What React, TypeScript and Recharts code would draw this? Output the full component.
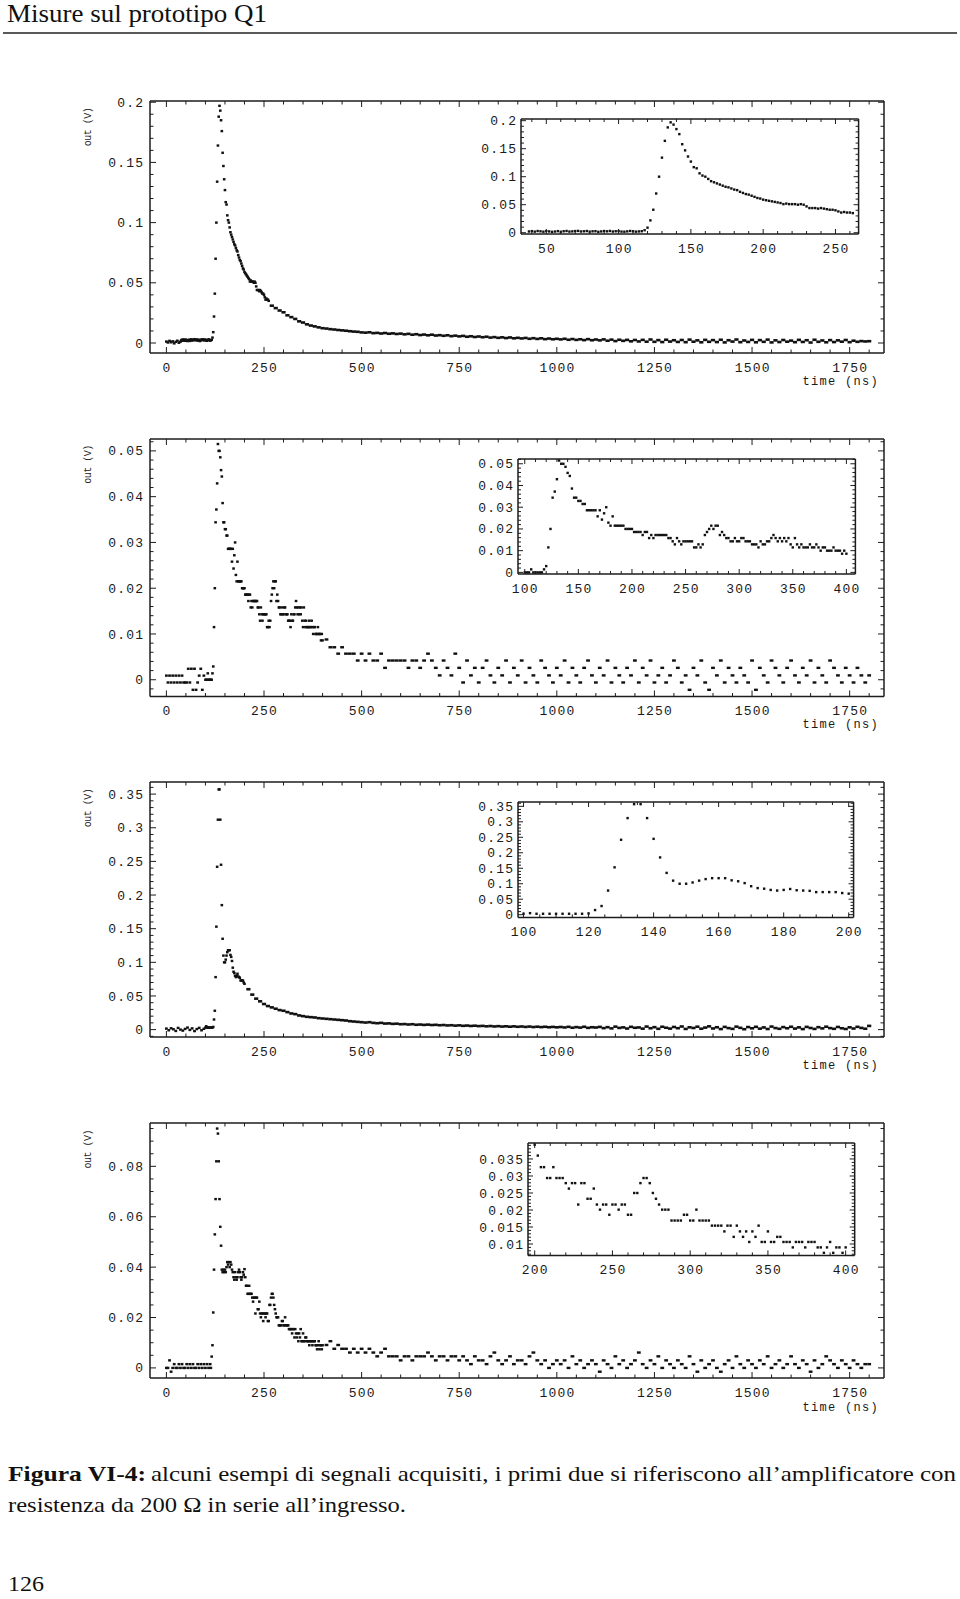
import React from "react";
import { ScatterChart, Scatter, XAxis, YAxis } from "recharts";

// Readings of the four acquired signals, in mV, on the digitiser grid (start ns, step ns).

// signal 1
const p1PreStart = 0, p1PreStep = 4;
const p1Pre = [1.2, 0.4, 1.8, 0.6, 1.4, -0.3, 1.0, 1.9, 0.2, 1.1];
const p1FineStart = 38, p1FineStep = 2;
const p1Fine = [
  2.2, 2.8, 1.9, 3.0, 2.5, 1.8, 2.9, 2.3, 1.6, 2.1,
  2.8, 1.7, 2.6, 3.1, 2.0, 2.4, 2.9, 3.2, 2.2, 2.6,
  3.0, 1.9, 2.5, 2.7, 1.6, 2.3, 3.0, 2.5, 3.1, 2.1,
  2.6, 2.9, 2.0, 1.8, 2.4, 3.1, 2.6, 1.9, 2.3, 2.7,
  4.5, 9, 22, 41, 70, 100, 134, 164, 188, 197,
  193, 185, 176, 158, 147, 136, 127, 117, 115, 106,
  102, 100, 96, 92, 90, 88, 86, 84, 82, 81,
  79, 77, 76, 73, 71, 69, 68, 66, 64, 62,
  61, 59, 58, 57, 56, 55, 54, 53, 51, 52,
  51, 51, 51, 50, 51, 50, 47, 44, 44, 44,
  43, 44, 43, 42, 41, 41, 40, 38, 36, 37,
  36, 36, 35,
];
const p1TailStart = 270, p1TailStep = 10;
const p1Tail = [
  31, 29, 27, 25.5, 23, 21.5, 20, 18, 17, 15.5,
  14.5, 13.8, 13, 12.3, 12, 11.5, 11.2, 10.8, 10.5, 10.2,
  9.8, 9.5, 9.3, 8.8,
  8.6, 8.9, 8.2, 8.4, 7.9, 8.3, 7.7, 8.0, 7.5, 7.8,
  7.2, 7.6, 6.9, 7.3, 6.6, 7.0, 6.4, 6.9, 6.2, 6.5,
  6.0, 6.4, 5.7, 6.1, 5.5, 5.9, 5.2, 5.6, 5.0, 5.4,
  4.8, 5.2, 4.5, 4.9, 4.3, 4.7, 4.1, 4.6, 3.9, 4.3,
  3.8, 4.2, 3.5, 4.0, 3.4, 3.9, 3.2, 3.7, 3.1, 3.5,
  3.0, 3.5, 2.7, 3.3, 2.6, 3.1, 2.4, 3.2, 2.3, 2.9,
  2.2, 3.0, 1.9, 2.8, 1.6, 2.7, 1.8, 2.6, 1.4, 2.5,
  1.3, 2.6, 1.1, 2.9, 1.0, 2.4, 0.8, 2.7, 1.2, 2.3,
  0.9, 2.5, 0.7, 2.8, 1.1, 2.2, 0.6, 2.6, 1.0, 2.4,
  0.8, 2.7, 0.5, 2.3, 1.2, 2.9, 0.7, 2.1, 0.9, 2.6,
  0.6, 2.4, 1.0, 2.8, 0.5, 2.2, 0.8, 2.5, 1.1, 2.0,
  0.7, 2.6, 0.9, 2.3, 0.4, 2.7, 1.0, 2.1, 0.6, 2.4,
  0.8, 2.2, 1.1, 2.5, 0.7, 1.9, 1.0, 1.6, 1.3, 1.5,
];

// signal 2
const p2PreStart = 0, p2PreStep = 4;
const p2Pre = [
  0.9, -0.6, 0.9, -0.6, 0.9, -0.6, 0.9, -0.6, 0.9, -0.6,
  0.9, -0.6, -0.6, -0.6, 2.4, -0.6, 2.4, -2.2, 2.4, -2.2,
  -0.6, 0.9, 2.4, -2.2, 0.9,
];
const p2FineStart = 100, p2FineStep = 2;
const p2Fine = [
  0, 0, 0, 1.4, 0, 0, 0, 0, 0, 1.4,
  2.9, 11.5, 20, 34.4, 37.2, 42.9, 51.5, 50, 50, 48.6,
  45.8, 44.4, 38.6, 34.4, 34.4, 32.9, 32.9, 31.5, 31.5, 28.6,
  28.6, 28.6, 28.6, 28.6, 25.8, 28.6, 24.3, 27.2, 30, 22.9,
  21.5, 25.8, 21.5, 21.5, 21.5, 21.5, 21.5, 20, 20, 20,
  20, 18.6, 18.6, 18.6, 18.6, 17.2, 18.6, 18.6, 15.8, 17.2,
  15.8, 17.2, 17.2, 17.2, 17.2, 17.2, 17.2, 15.8, 15.8, 14.3,
  12.9, 15.8, 14.3, 12.9, 14.3, 14.3, 14.3, 14.3, 14.3, 11.5,
  11.5, 12.9, 11.5, 12.9, 17.2, 18.6, 20, 21.5, 20, 21.5,
  21.5, 17.2, 18.6, 17.2, 15.8, 15.8, 14.3, 14.3, 15.8, 14.3,
  14.3, 15.8, 15.8, 14.3, 14.3, 14.3, 12.9, 12.9, 12.9, 11.5,
  14.3, 12.9, 12.9, 14.3, 14.3, 15.8, 17.2, 15.8, 14.3, 15.8,
  14.3, 15.8, 14.3, 15.8, 12.9, 11.5, 15.8, 12.9, 11.5, 12.9,
  11.5, 11.5, 11.5, 12.9, 11.5, 11.5, 12.9, 11.5, 10, 11.5,
  11.5, 10, 10, 10, 11.5, 10, 10, 10, 8.6, 10,
  8.6,
];
const p2TailStart = 410, p2TailStep = 10;
const p2Tail = [
  8.8, 7.1, 7.1, 5.7, 7.1, 5.7, 5.7, 5.7, 4.2, 5.7,
  4.2, 5.7, 4.2, 4.2, 5.7, 2.6, 4.2, 4.2, 4.2, 4.2,
  4.2, 2.6, 4.2, 4.2, 2.6, 4.2, 5.7, 4.2, 2.6, 0.95,
  4.2, 2.6, 0.95, 5.7, 2.6, -0.6, 4.2, 0.95, 2.6, -0.6,
  2.6, 4.2, 0.95, -0.6, 2.6, 0.95, 4.2, -0.6, 2.6, 0.95,
  4.2, -0.6, 2.6, 0.95, -0.6, 4.2, 2.6, 0.95, -0.6, 2.6,
  0.95, 4.2, -0.6, 2.6, 0.95, -0.6, 2.6, 4.2, 0.95, -0.6,
  2.6, 0.95, 4.2, -0.6, 2.6, 0.95, -0.6, 2.6, 0.95, 4.2,
  -0.6, 2.6, 0.95, 4.2, -0.6, 0.95, 2.6, -0.6, 0.95, 4.2,
  2.6, -0.6, 0.95, -2.2, 2.6, 0.95, 4.2, -0.6, -2.2, 2.6,
  0.95, 4.2, -0.6, 2.6, 0.95, -0.6, 2.6, 0.95, -0.6, 4.2,
  -2.2, 2.6, 0.95, -0.6, 4.2, 2.6, 0.95, -0.6, 2.6, 4.2,
  0.95, -0.6, 2.6, 0.95, 4.2, -0.6, 2.6, 0.95, -0.6, 4.2,
  2.6, 0.95, -0.6, 2.6, 0.95, -0.6, 2.6, 0.95, -0.6, 0.95,
];

// signal 3
const p3PreStart = 0, p3PreStep = 6;
const p3Pre = [1.5, -1, 2, 0.5, -2, 2.5, 0, -1.5, 1, 3, -0.5, 1.8, -2.2, 0.8, 2.6, -1, 1.2];
const p3FineStart = 100, p3FineStep = 2;
const p3Fine = [
  3, 5, 3, 3, 3, 3, 3, 3, 3, 3,
  4, 15, 28, 78, 153, 242, 312, 357, 357, 312,
  245, 185, 135, 110, 100, 100, 104, 110, 115, 118,
  118, 118, 111, 108, 102, 92, 86, 84, 80, 78,
  80, 83, 79, 78, 77, 73, 73, 73, 73, 70,
  68,
];
const p3TailStart = 210, p3TailStep = 10;
const p3Tail = [
  60, 52, 46, 42, 38, 35, 33, 31, 29, 28,
  26, 24, 23, 21, 20, 19, 18.5, 18, 17, 16.5,
  16, 15.5, 15, 14.5, 14, 13.5, 12.5, 12, 11.5, 11,
  10.5, 11, 10, 9.5, 10, 9, 9.2, 8.5, 8.8, 8,
  8.2, 7.6, 8, 7.2, 7.5, 7, 7.4, 6.8, 7.1, 6.5,
  6.8, 6.2, 6.5, 5.9, 6.3, 5.6, 6.0, 5.4, 5.8, 5.2,
  5.5, 4.9, 5.3, 4.7, 5.1, 4.5, 4.9, 4.3, 4.8, 4.2,
  4.6, 4.0, 4.5, 3.8, 4.3, 3.7, 4.2, 3.5, 4.0, 3.4,
  3.9, 3.2, 4.1, 2.8, 3.7, 3.0, 4.2, 2.6, 3.5, 3.1,
  4.0, 2.2, 3.6, 1.8, 4.4, 2.5, 3.3, 1.6, 4.1, 2.7,
  3.2, 1.4, 4.5, 2.0, 3.6, 1.2, 4.2, 2.8, 1.5, 3.9,
  2.1, 4.6, 1.0, 3.4, 2.4, 4.3, 1.3, 3.0, 4.8, 1.7,
  3.5, 0.8, 4.0, 2.2, 1.1, 4.4, 2.6, 0.6, 3.8, 1.9,
  4.1, 1.4, 3.2, 0.9, 4.5, 2.3, 1.2, 3.7, 2.0, 4.2,
  1.5, 3.3, 0.8, 4.0, 2.4, 1.0, 3.6, 1.8, 4.3, 2.2,
  1.2, 3.9, 2.0, 0.9, 3.4, 1.6, 4.1, 2.5, 1.3, 5.5,
];

// signal 4
const p4PreStart = 0, p4PreStep = 4;
const p4Pre = [
  0, 0, 3.0, -1.5, 0, 1.5, 0, 0, 1.5, 0,
  1.5, 0, 0, 1.5, 0, 1.5, 0, 1.5, 0, 0,
  1.5, 0, 1.5, 0, 1.5, 0, 1.5, 0, 1.5,
];
const p4RiseStart = 114, p4RiseStep = 2;
const p4Rise = [
  0, 4.5, 9, 22, 39, 53, 67, 82, 95, 93,
  82, 67, 56, 48.5, 39, 38, 39, 38, 39, 38,
  40, 42, 41, 42, 40, 42, 41, 39, 38, 36,
  35, 38, 36, 35, 36, 38, 39, 38, 36, 35,
  36, 38, 37,
];
const p4FineStart = 200, p4FineStep = 2;
const p4Fine = [
  39.2, 36, 32.6, 32.6, 29.4, 29.4, 32.6, 29.4, 29.4, 29.4,
  27.9, 26.3, 27.9, 27.9, 21.6, 27.9, 27.9, 23.3, 23.3, 26.3,
  21.6, 20.1, 21.6, 21.6, 18.6, 21.6, 21.6, 20.1, 21.6, 21.6,
  18.6, 18.6, 25, 25, 27.9, 29.4, 29.4, 27.9, 25, 23.3,
  21.6, 20.1, 20.1, 20.1, 16.9, 16.9, 16.9, 16.9, 18.6, 18.6,
  16.9, 16.9, 20.1, 16.9, 16.9, 16.9, 16.9, 15.4, 15.4, 15.4,
  15.4, 13.7, 15.4, 15.4, 12.1, 15.4, 13.7, 12.1, 13.7, 10.6,
  13.7, 12.1, 15.4, 10.6, 10.6, 13.7, 10.6, 10.6, 12.1, 12.1,
  10.6, 10.6, 10.6, 9.0, 10.6, 10.6, 10.6, 9.0, 10.6, 10.6,
  10.6, 9.0, 9.0, 7.4, 9.0, 10.6, 7.4, 9.0, 9.0, 7.4,
  9.0,
];
const p4TailStart = 410, p4TailStep = 10;
const p4Tail = [
  9.1, 10.6, 7.6, 9.1, 7.6, 7.6, 6.1, 7.6, 6.1, 7.6,
  6.1, 7.6, 6.1, 4.6, 6.1, 7.6, 4.6, 4.6, 4.6, 3.0,
  4.6, 4.6, 3.0, 4.6, 4.6, 4.6, 6.1, 4.6, 3.0, 4.6,
  4.6, 3.0, 4.6, 4.6, 3.0, 4.6, 3.0, 1.5, 4.6, 3.0,
  3.0, 1.5, 4.6, 6.1, 3.0, 1.5, 3.0, 4.6, 1.5, 3.0,
  3.0, 1.5, 4.6, 6.1, 3.0, 1.5, 3.0, 0, 1.5, 3.0,
  1.5, 3.0, 0, 4.6, 1.5, 3.0, 0, 1.5, 3.0, 1.5,
  -1.5, 3.0, 1.5, 0, 4.6, 1.5, 3.0, 0, 1.5, 3.0,
  6.1, 1.5, 0, 3.0, 1.5, 4.6, 0, 3.0, 1.5, 0,
  3.0, 1.5, 0, 4.6, 1.5, -1.5, 3.0, 0, 1.5, 3.0,
  0, -1.5, 1.5, 3.0, 0, 4.6, 1.5, 0, 3.0, 1.5,
  0, 3.0, 1.5, 4.6, 0, 1.5, 3.0, 0, 1.5, 4.6,
  1.5, 0, 3.0, 1.5, -1.5, 3.0, 0, 1.5, 4.6, 3.0,
  1.5, 0, 3.0, 1.5, 0, 3.0, 1.5, 0, 1.5, 1.5,
];

// tick labels
const timeTicks = [0, 250, 500, 750, 1000, 1250, 1500, 1750];
const p1VTicks = [0, 0.05, 0.1, 0.15, 0.2];
const p2VTicks = [0, 0.01, 0.02, 0.03, 0.04, 0.05];
const p3VTicks = [0, 0.05, 0.1, 0.15, 0.2, 0.25, 0.3, 0.35];
const p4VTicks = [0, 0.02, 0.04, 0.06, 0.08];
const in1TTicks = [50, 100, 150, 200, 250];
const in2TTicks = [100, 150, 200, 250, 300, 350, 400];
const in3TTicks = [100, 120, 140, 160, 180, 200];
const in4TTicks = [200, 250, 300, 350, 400];
const in4VTicks = [0.01, 0.015, 0.02, 0.025, 0.03, 0.035];

const toPoints = (start: number, step: number, mv: number[]) =>
  mv.map((m, i) => ({ t: start + i * step, v: m / 1000 }));

const MONO = "'Liberation Mono', 'DejaVu Sans Mono', monospace";
const SERIF = "'Liberation Serif', 'Times New Roman', serif";
const INK = "#1c1c1c";
const FRAME = { stroke: INK, strokeWidth: 1.5 };

function minorTicks(domain: number[], step: number, majors: number[]) {
  const out: number[] = [];
  const k0 = Math.ceil(domain[0] / step - 1e-9);
  const k1 = Math.floor(domain[1] / step + 1e-9);
  for (let k = k0; k <= k1; k++) {
    const v = Math.round(k * step * 1e6) / 1e6;
    if (!majors.some((m) => Math.abs(m - v) < 1e-9)) out.push(v);
  }
  return out;
}

type Side = "bottom" | "top" | "left" | "right";

function makeTick(side: Side, majors: number[], labels: boolean, big: number, small: number, gap: number) {
  return (props: any) => {
    const { x, y, payload } = props;
    const v = payload.value as number;
    const major = majors.some((m) => Math.abs(m - v) < 1e-9);
    const len = major ? big : small;
    let x2 = x, y2 = y;
    if (side === "bottom") y2 = y - len;
    if (side === "top") y2 = y + len;
    if (side === "left") x2 = x + len;
    if (side === "right") x2 = x - len;
    const txt = { fontFamily: MONO, fontSize: 13, letterSpacing: 1.2, fill: "#1a1a1a" };
    return (
      <g>
        <line x1={x} y1={y} x2={x2} y2={y2} stroke={INK} strokeWidth={1} />
        {labels && major && side === "bottom" && (
          <text x={x + 0.6} y={y + 14} dy="0.35em" textAnchor="middle" style={txt}>{String(v)}</text>
        )}
        {labels && major && side === "left" && (
          <text x={x - gap + 1.2} y={y} dy="0.35em" textAnchor="end" style={txt}>{String(v)}</text>
        )}
      </g>
    );
  };
}

type Seg = { data: { t: number; v: number }[]; w: number; h: number };

type PlotProps = {
  left: number; top: number; width: number; height: number;
  xDomain: number[]; yDomain: number[];
  xMajor: number[]; xMinor: number; yMajor: number[]; yMinor: number;
  segs: Seg[]; pad: { l: number; r: number; t: number; b: number };
  big: number; small: number; gap: number; bg?: string;
};

function Plot(p: PlotProps) {
  const W = p.width + p.pad.l + p.pad.r;
  const H = p.height + p.pad.t + p.pad.b;
  const xTicks = [...p.xMajor, ...minorTicks(p.xDomain, p.xMinor, p.xMajor)].sort((a, b) => a - b);
  const yTicks = [...p.yMajor, ...minorTicks(p.yDomain, p.yMinor, p.yMajor)].sort((a, b) => a - b);
  return (
    <div style={{ position: "absolute", left: p.left - p.pad.l, top: p.top - p.pad.t, width: W, height: H, background: p.bg }}>
      <ScatterChart width={W} height={H} margin={{ top: 0, right: 0, bottom: 0, left: 0 }}>
        <XAxis xAxisId="b" type="number" dataKey="t" orientation="bottom" domain={p.xDomain} allowDataOverflow
          ticks={xTicks} interval={0} height={p.pad.b} tickSize={0} tickMargin={0} tickLine={false} axisLine={FRAME}
          tick={makeTick("bottom", p.xMajor, true, p.big, p.small, p.gap)} />
        <XAxis xAxisId="t" type="number" dataKey="t" orientation="top" domain={p.xDomain} allowDataOverflow
          ticks={xTicks} interval={0} height={p.pad.t} tickSize={0} tickMargin={0} tickLine={false} axisLine={FRAME}
          tick={makeTick("top", p.xMajor, false, p.big, p.small, p.gap)} />
        <YAxis yAxisId="l" type="number" dataKey="v" orientation="left" domain={p.yDomain} allowDataOverflow
          ticks={yTicks} interval={0} width={p.pad.l} tickSize={0} tickMargin={0} tickLine={false} axisLine={FRAME}
          tick={makeTick("left", p.yMajor, true, p.big, p.small, p.gap)} />
        <YAxis yAxisId="r" type="number" dataKey="v" orientation="right" domain={p.yDomain} allowDataOverflow
          ticks={yTicks} interval={0} width={p.pad.r} tickSize={0} tickMargin={0} tickLine={false} axisLine={FRAME}
          tick={makeTick("right", p.yMajor, false, p.big, p.small, p.gap)} />
        {p.segs.map((s, i) => (
          <Scatter key={i} xAxisId="b" yAxisId="l" data={s.data} isAnimationActive={false}
            shape={(d: any) => <rect x={d.cx - s.w / 2} y={d.cy - s.h / 2} width={s.w} height={s.h} fill="#111" />} />
        ))}
      </ScatterChart>
    </div>
  );
}

const MAIN_PAD = { l: 70, r: 8, t: 8, b: 30 };
const INSET_PAD = { l: 62, r: 22, t: 6, b: 28 };
const T_DOMAIN = [-42, 1838];

const panels = [
  {
    top: 101, height: 252, yDomain: [-0.0083, 0.201], yMajor: p1VTicks, yMinor: 0.01,
    segs: [
      { data: toPoints(p1PreStart, p1PreStep, p1Pre), w: 2.8, h: 2.4 },
      { data: toPoints(p1FineStart, p1FineStep, p1Fine), w: 2.6, h: 2.4 },
      { data: toPoints(p1TailStart, p1TailStep, p1Tail), w: 4.2, h: 2.6 },
    ],
    inset: {
      left: 520.7, top: 119, width: 337.6, height: 115, xDomain: [32.5, 266], yDomain: [-0.0023, 0.203],
      xMajor: in1TTicks, xMinor: 10, yMajor: p1VTicks, yMinor: 0.01,
      data: toPoints(p1FineStart, p1FineStep, p1Fine),
    },
  },
  {
    top: 438.5, height: 257.5, yDomain: [-0.00366, 0.0526], yMajor: p2VTicks, yMinor: 0.002,
    segs: [
      { data: toPoints(p2PreStart, p2PreStep, p2Pre), w: 2.8, h: 2.4 },
      { data: toPoints(p2FineStart, p2FineStep, p2Fine), w: 2.6, h: 2.4 },
      { data: toPoints(p2TailStart, p2TailStep, p2Tail), w: 3.8, h: 2.4 },
    ],
    inset: {
      left: 518.3, top: 459.3, width: 337.4, height: 115, xDomain: [93.7, 408.4], yDomain: [-0.00074, 0.0522],
      xMajor: in2TTicks, xMinor: 10, yMajor: p2VTicks, yMinor: 0.002,
      data: toPoints(p2FineStart, p2FineStep, p2Fine),
    },
  },
  {
    top: 782, height: 255, yDomain: [-0.011, 0.368], yMajor: p3VTicks, yMinor: 0.01,
    segs: [
      { data: toPoints(p3PreStart, p3PreStep, p3Pre), w: 2.8, h: 2.4 },
      { data: toPoints(p3FineStart, p3FineStep, p3Fine), w: 2.6, h: 2.4 },
      { data: toPoints(p3TailStart, p3TailStep, p3Tail), w: 4.2, h: 2.6 },
    ],
    inset: {
      left: 517.7, top: 802.3, width: 335.6, height: 115.4, xDomain: [98.3, 201.5], yDomain: [-0.0087, 0.364],
      xMajor: in3TTicks, xMinor: 5, yMajor: p3VTicks, yMinor: 0.01,
      data: toPoints(p3FineStart, p3FineStep, p3Fine),
    },
  },
  {
    top: 1123.3, height: 255, yDomain: [-0.004, 0.0972], yMajor: p4VTicks, yMinor: 0.005,
    segs: [
      { data: toPoints(p4PreStart, p4PreStep, p4Pre), w: 2.8, h: 2.4 },
      { data: toPoints(p4RiseStart, p4RiseStep, p4Rise), w: 2.6, h: 2.4 },
      { data: toPoints(p4FineStart, p4FineStep, p4Fine), w: 2.6, h: 2.4 },
      { data: toPoints(p4TailStart, p4TailStep, p4Tail), w: 3.8, h: 2.4 },
    ],
    inset: {
      left: 528.3, top: 1143.3, width: 326.7, height: 112.4, xDomain: [195.7, 405.8], yDomain: [0.00665, 0.0397],
      xMajor: in4TTicks, xMinor: 10, yMajor: in4VTicks, yMinor: 0.001,
      data: toPoints(p4FineStart, p4FineStep, p4Fine),
    },
  },
];

export default function App() {
  const axisText = { fontFamily: MONO, fill: "#1a1a1a" };
  return (
    <div style={{ position: "absolute", left: 0, top: 0, width: 960, height: 1599, background: "#fff", overflow: "hidden" }}>
      <svg width={960} height={1599} style={{ position: "absolute", left: 0, top: 0 }}>
        <text x={7} y={22} fontFamily={SERIF} fontSize={25} fill="#111" textLength={260} lengthAdjust="spacingAndGlyphs">
          Misure sul prototipo Q1
        </text>
        <line x1={3} y1={33} x2={957} y2={33} stroke="#222" strokeWidth={1.6} />
        {panels.map((p, i) => (
          <g key={i}>
            <text x={87.5} y={p.top + 26} dy="0.35em" textAnchor="middle" fontSize={10} letterSpacing={-0.5}
              style={axisText} transform={`rotate(-90 87.5 ${p.top + 26})`}>
              out (V)
            </text>
            <text x={879} y={p.top + p.height + 28} dy="0.35em" textAnchor="end" fontSize={12} letterSpacing={1.3}
              style={axisText}>
              time (ns)
            </text>
          </g>
        ))}
        <text x={8} y={1481} fontFamily={SERIF} fontSize={22} fontWeight="bold" fill="#111" textLength={138} lengthAdjust="spacingAndGlyphs">
          Figura VI-4:
        </text>
        <text x={151} y={1481} fontFamily={SERIF} fontSize={22} fill="#111" textLength={805} lengthAdjust="spacingAndGlyphs">
          alcuni esempi di segnali acquisiti, i primi due si riferiscono all’amplificatore con
        </text>
        <text x={8} y={1512} fontFamily={SERIF} fontSize={22} fill="#111" textLength={398} lengthAdjust="spacingAndGlyphs">
          resistenza da 200 Ω in serie all’ingresso.
        </text>
        <text x={8} y={1591} fontFamily={SERIF} fontSize={21} fill="#111" textLength={36} lengthAdjust="spacingAndGlyphs">
          126
        </text>
      </svg>
      {panels.map((p, i) => (
        <React.Fragment key={i}>
          <Plot left={150} top={p.top} width={734} height={p.height} xDomain={T_DOMAIN} yDomain={p.yDomain}
            xMajor={timeTicks} xMinor={50} yMajor={p.yMajor} yMinor={p.yMinor} segs={p.segs}
            pad={MAIN_PAD} big={6} small={3.5} gap={7} />
          <Plot left={p.inset.left} top={p.inset.top} width={p.inset.width} height={p.inset.height}
            xDomain={p.inset.xDomain} yDomain={p.inset.yDomain} xMajor={p.inset.xMajor} xMinor={p.inset.xMinor}
            yMajor={p.inset.yMajor} yMinor={p.inset.yMinor}
            segs={[{ data: p.inset.data, w: 2.4, h: 2.4 }]} pad={INSET_PAD} big={5} small={3} gap={5} bg="#fff" />
        </React.Fragment>
      ))}
    </div>
  );
}
